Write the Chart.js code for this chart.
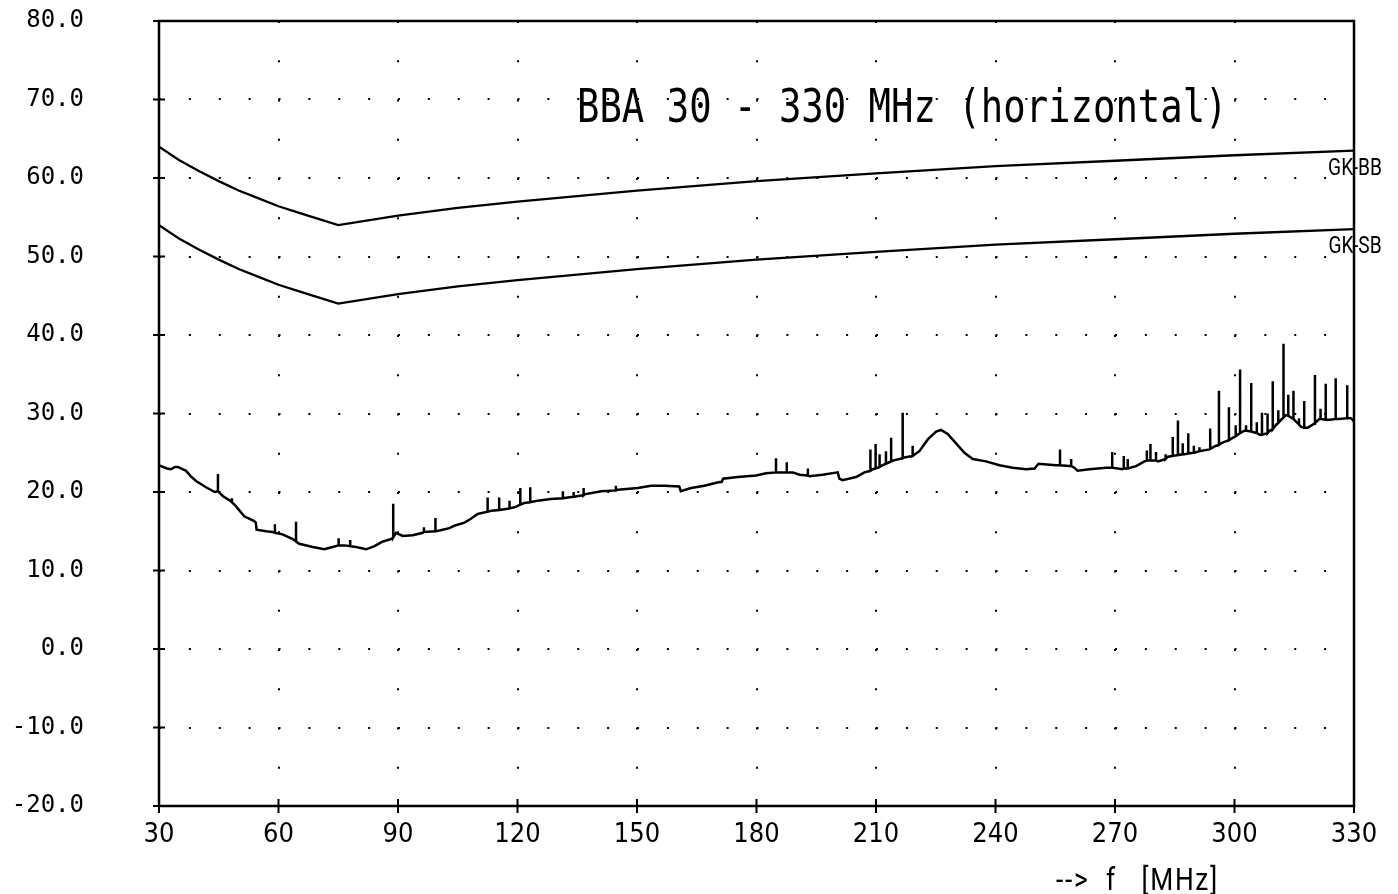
<!DOCTYPE html>
<html><head><meta charset="utf-8">
<script src="https://cdn.jsdelivr.net/npm/chart.js@4.4.0/dist/chart.umd.min.js"></script>
<style>html,body{margin:0;padding:0;background:#fff;}</style>
</head><body>
<canvas id="c" width="1398" height="894"></canvas>
<script>
// ---- data ----
const xTickStep = 30;          // MHz
const yTickStep = 10;          // dB
const xRange = [30, 330];
const yRange = [-20, 80];

const titleText = 'BBA 30 - 330 MHz (horizontal)';
const axisText = '-->  f   [MHz]';
const limitNames = ['GK-BB', 'GK-SB'];

const limitFreq = [30, 35, 40, 45, 50, 55, 60, 65, 70, 75, 90, 105, 120, 150, 180, 210, 240, 270, 300, 330];
const limitBB   = [64.0, 62.3, 60.9, 59.6, 58.4, 57.4, 56.4, 55.6, 54.8, 54.0, 55.2, 56.2, 57.0, 58.4, 59.6, 60.6, 61.5, 62.2, 62.9, 63.5];
const limitSB   = [54.0, 52.3, 50.9, 49.6, 48.4, 47.4, 46.4, 45.6, 44.8, 44.0, 45.2, 46.2, 47.0, 48.4, 49.6, 50.6, 51.5, 52.2, 52.9, 53.5];

const baseFreq = [30.0,30.5,32.0,33.0,34.0,34.7,35.5,36.8,38.0,39.3,41.8,44.0,46.0,47.8,49.3,51.4,53.9,54.3,54.5,56.9,
  58.5,61.0,63.6,65.2,68.6,71.5,73.6,76.6,79.5,82.0,84.1,86.2,88.2,89.5,91.2,93.7,96.2,100.4,102.9,104.1,
  106.7,108.3,110.0,113.4,116.7,119.6,121.7,125.1,128.4,132.6,136.8,141.0,145.2,150.2,153.5,156.9,160.6,161.0,163.6,166.9,
  170.2,171.3,171.6,175.3,179.9,182.4,189.1,190.8,193.3,196.6,200.4,200.8,201.6,205.0,207.1,209.2,211.2,214.2,217.1,220.9,
  223.0,225.1,226.3,228.0,230.1,232.2,234.3,237.6,241.0,244.3,247.7,249.8,250.8,255.2,258.5,259.8,260.6,263.6,267.8,271.9,
  275.3,277.4,280.8,283.3,287.4,289.9,293.3,295.4,297.0,299.5,300.8,302.5,306.3,308.8,310.5,312.1,312.9,315.4,316.7,318.4,
  320.0,321.3,324.0,326.3,329.2,330.0];
const baseLevel = [23.4,23.3,23.0,22.9,23.2,23.2,23.0,22.7,22.0,21.4,20.6,20.0,19.5,18.9,18.2,16.9,16.3,16.1,15.2,15.0,
  14.9,14.6,14.0,13.4,13.0,12.7,13.0,13.2,13.0,12.7,13.1,13.7,14.0,14.8,14.4,14.5,14.8,15.1,15.4,15.7,
  16.1,16.6,17.2,17.6,17.8,18.1,18.6,18.9,19.1,19.3,19.7,20.1,20.3,20.5,20.8,20.8,20.7,20.1,20.5,20.8,
  21.2,21.3,21.7,21.9,22.1,22.4,22.5,22.2,22.0,22.2,22.5,21.7,21.5,21.9,22.5,22.9,23.3,24.0,24.4,25.2,
  26.7,27.7,27.9,27.4,26.2,25.0,24.2,23.9,23.4,23.1,22.9,23.0,23.6,23.4,23.3,23.1,22.7,22.9,23.1,22.9,
  23.3,23.9,23.9,24.5,24.8,25.0,25.4,25.9,26.3,26.9,27.3,27.8,27.3,27.8,28.6,29.4,29.8,29.0,28.3,28.2,
  28.7,29.3,29.2,29.3,29.4,29.0];

const spikeFreq = [44.8,48.3,59.1,64.4,75.1,78.0,88.8,96.5,99.4,112.5,115.4,118.0,120.7,123.2,131.4,134.1,136.6,144.7,
  184.9,187.6,192.9,208.6,209.9,210.9,212.5,213.8,216.7,219.2,256.2,259.0,269.3,272.2,273.2,278.0,278.9,280.3,282.7,
  284.5,285.8,287.0,288.4,289.8,291.2,293.9,296.1,298.6,300.3,301.4,302.9,304.2,305.6,306.9,308.3,309.6,311.0,312.3,
  313.5,314.8,316.2,317.5,320.2,321.6,322.9,325.4,328.3];
const spikeBase = [20.1,18.7,14.8,13.7,13.2,13.1,14.2,14.9,15.0,17.5,17.7,17.9,18.4,18.7,19.2,19.4,19.6,20.2,
  22.5,22.5,22.1,22.7,23.0,23.2,23.6,23.9,24.3,24.6,23.4,23.3,23.1,23.0,23.0,24.0,24.0,24.0,24.2,
  24.6,24.7,24.8,24.9,25.0,25.2,25.5,26.0,26.6,27.1,27.5,27.8,27.7,27.5,27.3,27.5,28.0,28.8,29.5,
  29.7,29.3,28.6,28.2,28.8,29.3,29.2,29.3,29.4];
const spikeTop = [22.3,19.2,15.9,16.2,14.1,13.9,18.5,15.5,16.7,19.3,19.3,18.9,20.5,20.6,20.1,20.0,20.5,20.8,
  24.3,23.8,23.0,25.4,26.1,24.8,25.2,26.9,30.1,25.9,25.4,24.2,25.1,24.6,24.2,25.3,26.1,25.1,24.8,
  27.0,29.1,26.2,27.5,25.9,25.7,28.1,32.9,30.8,28.5,35.6,28.5,33.9,28.9,30.1,30.0,34.1,30.4,38.9,
  32.4,32.9,29.4,31.6,34.9,30.6,33.8,34.5,33.6];

// ---- build datasets from the arrays ----
const groups = [];
baseFreq.forEach((f, i) => groups.push({f, pts: [{x: f, y: baseLevel[i]}]}));
spikeFreq.forEach((f, i) => groups.push({f, pts: [{x: f, y: spikeBase[i]}, {x: f, y: spikeTop[i]}, {x: f, y: spikeBase[i]}]}));
groups.sort((a, b) => a.f - b.f);
const traceData = [];
groups.forEach(g => g.pts.forEach(p => traceData.push(p)));

const bbData = limitFreq.map((f, i) => ({x: f, y: limitBB[i]}));
const sbData = limitFreq.map((f, i) => ({x: f, y: limitSB[i]}));

const decor = {
  id: 'decor',
  afterDatasetsDraw(chart) {
    const {ctx, chartArea: a, scales: {x, y}} = chart;
    ctx.save();
    ctx.strokeStyle = '#000';
    ctx.lineWidth = 2.5;
    ctx.beginPath();
    ctx.moveTo(a.left, a.top); ctx.lineTo(a.right, a.top); ctx.lineTo(a.right, a.bottom);
    ctx.lineTo(a.left, a.bottom); ctx.closePath(); ctx.stroke();
    ctx.lineWidth = 2;
    y.ticks.forEach(t => {
      const py = y.getPixelForValue(t.value);
      ctx.beginPath(); ctx.moveTo(a.left - 6, py); ctx.lineTo(a.left + 6, py); ctx.stroke();
    });
    x.ticks.forEach(t => {
      const px = x.getPixelForValue(t.value);
      ctx.beginPath(); ctx.moveTo(px, a.bottom - 7); ctx.lineTo(px, a.bottom + 7); ctx.stroke();
    });
    ctx.fillStyle = '#000';
    // title
    ctx.save();
    ctx.translate(a.left + 418, a.top + 101);
    ctx.scale(0.81, 1);
    ctx.font = "46px 'DejaVu Sans Mono'";
    ctx.textBaseline = 'alphabetic';
    ctx.textAlign = 'left';
    ctx.fillText(titleText, 0, 0);
    ctx.restore();
    // limit labels
    const ends = [limitBB[limitBB.length - 1], limitSB[limitSB.length - 1]];
    ends.forEach((v, i) => {
      ctx.save();
      ctx.translate(a.right + 1, y.getPixelForValue(v) + 18);
      ctx.scale(0.8, 1);
      ctx.font = "24px Roboto";
      ctx.textAlign = 'center';
      ctx.textBaseline = 'middle';
      ctx.fillText(limitNames[i], 0, 0);
      ctx.restore();
    });
    // axis text
    ctx.save();
    ctx.translate(a.right - 298, a.bottom + 84);
    ctx.scale(0.85, 1);
    ctx.font = "31px Roboto";
    try { ctx.letterSpacing = '2px'; } catch (e) {}
    ctx.textAlign = 'left';
    ctx.textBaseline = 'alphabetic';
    ctx.fillText(axisText, 0, 0);
    ctx.restore();
    ctx.restore();
  }
};

new Chart(document.getElementById('c'), {
  type: 'line',
  data: {
    datasets: [
      {data: traceData, borderColor: '#000', borderWidth: 2.5, pointRadius: 0, tension: 0, fill: false},
      {data: bbData, borderColor: '#000', borderWidth: 2.3, pointRadius: 0, tension: 0, fill: false},
      {data: sbData, borderColor: '#000', borderWidth: 2.3, pointRadius: 0, tension: 0, fill: false}
    ]
  },
  options: {
    responsive: false,
    animation: false,
    events: [],
    layout: {padding: {top: 21, right: 44, left: 0, bottom: 0}},
    plugins: {legend: {display: false}, tooltip: {enabled: false}, title: {display: false}},
    scales: {
      x: {
        type: 'linear', min: xRange[0], max: xRange[1],
        grid: {display: true, color: '#000', lineWidth: 2, drawTicks: false},
        border: {display: false, dash: [2, 37.25]},
        ticks: {stepSize: xTickStep, color: '#000', padding: 13, maxRotation: 0, autoSkip: false,
                font: {family: "'DejaVu Sans Condensed', 'Roboto Condensed', Roboto, sans-serif", size: 27}},
        afterFit: s => { s.height = 88; s.paddingLeft = 0; s.paddingRight = 0; }
      },
      y: {
        type: 'linear', min: yRange[0], max: yRange[1],
        grid: {display: true, color: '#000', lineWidth: 2, drawTicks: false},
        border: {display: false, dash: [2, 27.875]},
        ticks: {stepSize: yTickStep, color: '#000', padding: 75,
                font: {family: "'DejaVu Sans Mono', 'Liberation Mono', monospace", size: 24},
                callback: v => Number(v).toFixed(1)},
        afterFit: s => { s.width = 159; s.paddingTop = 0; s.paddingBottom = 0; }
      }
    }
  },
  plugins: [decor]
});
</script>
</body></html>
